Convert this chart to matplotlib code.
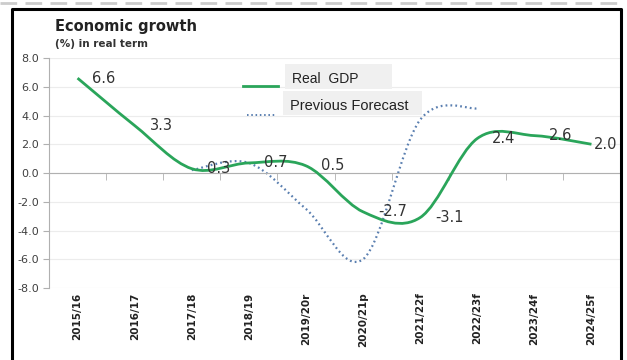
import numpy as np
import matplotlib
matplotlib.use("Agg")
import matplotlib.pyplot as plt
from matplotlib.path import Path
from matplotlib.patches import PathPatch, Rectangle
from matplotlib.lines import Line2D
import matplotlib.transforms as mtransforms

plt.rcParams['font.family'] = ['Liberation Sans', 'DejaVu Sans']

# data
years = ["2015/16", "2016/17", "2017/18", "2018/19", "2019/20r", "2020/21p",
         "2021/22f", "2022/23f", "2023/24f", "2024/25f"]
real_gdp = [6.6, 3.3, 0.3, 0.7, 0.5, -2.7, -3.1, 2.4, 2.6, 2.0]
prev_idx = [2, 3, 4, 5, 6, 7]
prev_forecast = [0.2, 0.7, -2.5, -6.0, 3.7, 4.5]

GREEN = "#2aa55a"
BLUE = "#5a7fb0"
W, H = 627, 360


def smooth_path(xs, ys):
    # Excel-like smoothed line: cubic Bezier through every point
    xs = np.asarray(xs, float); ys = np.asarray(ys, float)
    P = np.column_stack([xs, ys])
    Pext = np.vstack([P[0], P, P[-1]])
    verts = [P[0]]; codes = [Path.MOVETO]
    for i in range(len(P) - 1):
        p0, p1, p2, p3 = Pext[i], Pext[i + 1], Pext[i + 2], Pext[i + 3]
        verts += [p1 + (p2 - p0) / 6, p2 - (p3 - p1) / 6, p2]
        codes += [Path.CURVE4] * 3
    return Path(verts, codes)


fig = plt.figure(figsize=(W / 100, H / 100), dpi=100)
ax = fig.add_axes([49 / W, 1 - 288 / H, (620 - 49) / W, (288 - 58) / H])

x = np.arange(len(years))
ax.add_patch(PathPatch(smooth_path(x, real_gdp), fill=False, edgecolor=GREEN, lw=2, zorder=3))
ax.add_patch(PathPatch(smooth_path(prev_idx, prev_forecast), fill=False, edgecolor=BLUE,
                       lw=1.6, linestyle=(0, (0.8, 1.4)), zorder=2))

# value labels, right of each point
for i, v in enumerate(real_gdp):
    dx = 0.05 if i == len(real_gdp) - 1 else 0.26
    ax.text(i + dx, v, f"{v:.1f}", fontsize=10.5, color="#333333", va="center", ha="left",
            family=["DejaVu Sans"], zorder=4)

ax.set_xlim(-0.5, len(years) - 0.5)
ax.set_ylim(-8, 8)
ax.set_yticks(np.arange(-8, 8.1, 2))
ax.set_yticklabels([f"{t:.1f}" for t in np.arange(-8, 8.1, 2)], fontsize=8, color="#404040",
                   family=["DejaVu Sans"])
ax.grid(axis="y", color="#ececec", lw=0.8)
ax.set_axisbelow(True)
for s in ["top", "right"]:
    ax.spines[s].set_visible(False)
ax.spines["left"].set_color("#b0b0b0")
ax.spines["bottom"].set_color("#b0b0b0")
ax.spines["bottom"].set_position(("data", 0))
ax.tick_params(axis="y", length=4, color="#b0b0b0", pad=3)
ax.set_xticks(x)
ax.set_xticklabels([])
ax.tick_params(axis="x", which="major", length=0)
ax.set_xticks(np.arange(0.5, len(years) - 1, 1), minor=True)
ax.tick_params(axis="x", which="minor", length=5, color="#b0b0b0", direction="out")

trans = mtransforms.blended_transform_factory(ax.transData, ax.transAxes)
for i, lab in enumerate(years):
    ax.text(i, -0.02, lab, transform=trans, rotation=90, ha="center", va="top",
            fontsize=7.5, fontweight="bold", color="#222222", family=["DejaVu Sans"])

# titles
fig.text(55 / W, 1 - 27 / H, "Economic growth", fontsize=10.5, fontweight="bold",
         color="#222222", va="center", family=["DejaVu Sans"])
fig.text(55 / W, 1 - 44 / H, "(%) in real term", fontsize=7.5, fontweight="bold",
         color="#333333", va="center", family=["DejaVu Sans"])

# legend
fig.add_artist(Rectangle((285 / W, 1 - 89 / H), 107 / W, 25 / H, transform=fig.transFigure,
                         fc="#f0f0f0", ec="none"))
fig.add_artist(Rectangle((283 / W, 1 - 115 / H), 139 / W, 24 / H, transform=fig.transFigure,
                         fc="#f0f0f0", ec="none"))
fig.add_artist(Line2D([243 / W, 278 / W], [1 - 86 / H] * 2, color=GREEN, lw=2))
fig.add_artist(Line2D([247 / W, 275 / W], [1 - 115 / H] * 2, color=BLUE, lw=1.4,
                      linestyle=(0, (0.8, 1.4))))
fig.text(292 / W, 1 - 79 / H, "Real  GDP", fontsize=10, color="#222222", va="center")
fig.text(290 / W, 1 - 106 / H, "Previous Forecast", fontsize=10.5, color="#222222", va="center")

# outer frame
fig.add_artist(Line2D([0, 620 / W], [1 - 3 / H] * 2, color="#cccccc", lw=2,
                      linestyle=(0, (6, 3))))
fig.add_artist(Line2D([12 / W, 12 / W, 621 / W, 621 / W], [0, 1 - 9 / H, 1 - 9 / H, 0],
                      color="black", lw=2.2))

fig.savefig("out.png", dpi=100)
